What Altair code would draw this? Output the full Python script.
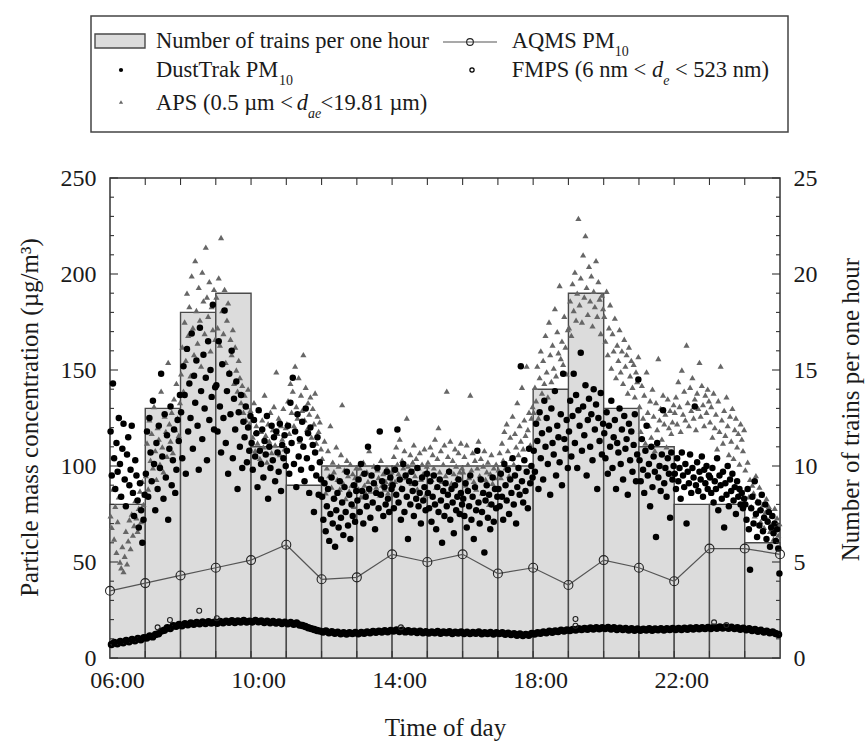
import altair as alt
import pandas as pd

FONT = "Liberation Serif"
TXT = "#1a1a1a"

# ---------------- data ----------------
HOURS = list(range(6, 25))                      # start hour of each bar (06:00 ... 24:00)
TRAINS = [8, 13, 18, 19, 11, 9, 10, 10, 10, 10, 10, 10, 14, 19, 13, 11, 8, 8, 6]
AQMS_HOURS = list(range(6, 26))
AQMS_PM10 = [35, 39, 43, 47, 51, 59, 41, 42, 54, 50, 54, 44, 47, 38, 51, 47, 40, 57, 57, 54]

DUSTTRAK = [
    "118 95 143 104 88 112 97 125 101 84 109 122 93 79 106 115 90 98 121 86 74 103 95 82 68 91 77 60 72 85",
    "96 118 84 125 107 92 134 101 77 112 88 121 99 148 105 83 127 94 116 72 109 131 90 103 119 86 98 124 113 137",
    "128 104 152 137 96 161 118 143 125 169 109 147 133 155 121 98 172 139 114 158 130 146 103 165 124 150 136 184 119 141",
    "142 118 165 131 107 153 125 181 112 139 96 148 127 160 104 135 119 144 88 128 110 137 99 123 115 131 102 120 108 126",
    "112 98 124 105 117 89 129 108 101 119 94 113 106 126 83 110 99 121 103 115 92 118 107 97 122 87 111 104 116 100",
    "108 121 96 133 112 146 101 118 89 127 105 114 98 123 110 92 130 104 117 86 120 99 111 76 107 95 115 85 102 93",
    "84 72 91 66 79 88 61 75 94 70 83 58 77 86 68 92 73 81 64 89 76 97 69 85 62 80 74 90 71 87",
    "82 93 76 101 87 70 96 84 79 110 88 73 95 81 91 67 86 99 78 118 85 92 74 89 80 97 83 76 94 88",
    "90 78 98 85 119 81 93 72 88 101 76 95 84 62 92 80 97 87 74 91 83 99 79 86 70 94 82 89 77 96",
    "86 78 92 71 84 95 80 67 89 76 93 82 60 87 74 91 79 85 97 72 88 81 65 90 77 84 93 75 86 80",
    "83 74 91 68 87 79 95 72 84 62 89 77 108 81 70 93 76 86 55 82 90 73 85 67 80 94 71 88 78 84",
    "88 79 96 84 72 101 90 82 98 75 93 86 104 80 95 70 89 99 85 152 92 81 103 87 97 78 109 91 100 94",
    "108 97 122 113 88 128 104 117 93 134 110 125 101 119 85 130 112 106 139 95 121 115 102 127 90 148 114 109 124 99",
    "118 134 105 126 148 112 137 99 129 121 159 108 131 116 142 95 124 135 110 127 103 140 119 132 88 125 113 138 106 122",
    "117 104 128 96 121 110 134 99 115 124 88 112 107 130 101 119 93 126 109 114 85 122 103 118 97 111 127 92 106 145",
    "103 92 114 98 86 108 121 95 101 79 110 89 105 97 63 112 94 100 87 106 129 91 99 84 104 96 73 107 93 100",
    "96 88 104 92 99 83 107 95 89 101 70 97 91 106 86 99 94 131 90 102 87 97 93 105 84 98 91 100 88 95",
    "94 86 99 81 92 88 104 77 95 90 83 97 68 91 85 100 79 93 87 96 82 89 75 92 84 88 80 86 78 83",
    "80 72 88 67 46 78 84 70 92 75 63 81 69 77 85 66 73 80 62 71 76 58 68 74 65 70 61 67 57 44",
]

APS = [
    "74 68 88 62 79 55 71 84 50 47 58 45 53 66 49 61 72 57 75 64 69 82 73 66 78 87 71 92 80 85",
    "95 112 88 124 103 117 99 131 108 93 120 114 101 139 110 97 126 118 105 154 122 113 128 107 135 119 143 125 116 133",
    "148 162 139 175 155 190 168 183 147 199 172 158 207 181 164 193 176 152 201 186 169 214 188 178 196 160 183 171 192 166",
    "188 172 198 163 219 181 169 192 154 176 185 149 166 158 171 143 162 150 139 155 146 133 142 128 137 124 131 140 122 129",
    "126 115 133 108 121 112 129 104 118 124 110 137 116 102 122 113 128 107 119 131 111 149 117 125 106 121 114 130 109 120",
    "122 134 117 143 128 139 121 152 131 125 146 113 137 129 158 124 141 119 133 127 136 115 130 122 138 112 126 118 123 109",
    "104 92 113 86 99 108 95 121 89 102 97 84 110 93 100 88 106 132 91 98 83 103 95 87 101 90 96 79 94 99",
    "93 88 99 84 96 102 90 86 97 92 108 87 95 81 100 91 89 98 94 85 103 90 96 88 92 99 86 94 91 97",
    "98 105 92 110 101 96 114 89 103 99 108 94 125 100 97 106 91 102 111 95 104 88 99 107 93 101 96 109 85 100",
    "102 96 110 93 106 99 114 89 104 120 97 108 92 101 111 95 139 105 98 113 91 103 96 109 100 94 107 97 112 99",
    "97 105 90 111 101 94 137 98 107 92 103 88 99 113 95 104 86 100 108 93 97 102 80 96 106 91 99 94 101 89",
    "98 107 94 112 103 118 99 122 108 95 115 104 126 101 117 110 133 106 121 113 141 109 124 116 152 119 128 111 125 131",
    "128 141 134 152 125 146 160 138 155 143 168 149 136 175 158 144 163 151 182 147 170 159 194 156 165 153 178 162 148 171",
    "172 186 168 195 181 201 176 190 229 184 198 175 210 188 220 193 179 204 186 199 173 191 183 207 178 196 187 169 189 182",
    "178 165 191 158 172 184 151 169 160 177 146 163 155 171 149 160 143 166 152 158 138 162 147 155 141 153 136 149 144 157",
    "131 118 142 125 137 112 149 128 121 134 115 140 126 108 133 119 156 124 130 114 137 122 127 110 135 120 129 117 123 132",
    "128 136 122 144 131 118 150 127 139 124 163 133 121 141 129 146 125 135 119 138 130 154 126 142 132 121 137 128 140 134",
    "123 131 115 138 120 127 109 134 118 152 124 112 129 116 136 121 106 126 113 130 104 119 125 110 117 101 122 114 108 119",
    "98 88 102 84 93 79 90 86 74 95 82 77 89 71 85 80 68 76 83 72 79 66 74 70 62 78 67 73 64 70",
]

FMPS = [
    "7.0 8.1 7.4 8.6 8.0 9.1 8.5 9.6 9.0 10.1 9.5 10.6",
    "10.4 11.5 11.0 12.3 12.6 14.0 14.5 15.8 15.4 16.8 16.5 17.5",
    "16.8 17.9 17.3 18.2 17.6 18.5 17.8 18.7 18.0 18.9 18.2 18.6",
    "18.1 19.0 18.4 19.2 18.6 19.4 18.5 19.3 18.8 19.5 18.7 19.2",
    "18.8 19.6 18.9 19.3 18.5 19.1 18.3 19.0 18.2 18.8 18.0 18.6",
    "17.8 18.5 17.6 18.2 17.2 16.9 16.4 15.8 15.3 14.9 14.3 14.0",
    "13.5 14.1 13.2 13.7 12.9 13.4 12.6 13.2 12.5 13.1 12.7 13.3",
    "12.6 13.3 12.9 13.6 13.1 13.8 13.4 14.0 13.5 14.2 13.7 14.3",
    "14.0 14.6 13.8 14.4 13.6 14.2 13.5 14.0 13.3 13.9 13.2 13.7",
    "13.0 13.6 13.1 13.8 12.9 13.5 13.2 13.7 12.8 13.4 13.0 13.6",
    "12.8 13.4 12.7 13.3 12.9 13.5 12.6 13.2 12.8 13.3 12.5 13.1",
    "12.7 13.2 12.4 12.9 12.2 12.7 11.9 12.5 11.7 12.3 11.9 12.8",
    "12.5 13.2 12.9 13.6 13.2 13.9 13.4 14.1 13.8 14.4 14.0 14.6",
    "14.3 14.9 14.6 15.2 14.8 15.4 15.0 15.6 15.1 15.7 15.2 15.8",
    "15.3 15.9 15.1 15.7 14.9 15.5 14.8 15.4 14.6 15.2 14.5 15.1",
    "14.4 15.0 14.6 15.2 14.5 15.1 14.7 15.3 14.6 15.2 14.8 15.4",
    "14.8 15.4 14.9 15.5 15.0 15.6 15.1 15.7 15.2 15.8 15.3 15.9",
    "15.4 16.0 15.5 16.1 15.6 16.2 15.5 16.0 15.3 15.8 15.0 15.5",
    "14.7 15.2 14.3 14.8 13.9 14.4 13.5 14.0 13.1 13.6 12.8 12.3",
]
FMPS_EXTRA_T = [7.35, 7.70, 8.53, 9.03, 14.25, 19.20, 19.20, 23.13, 23.48]
FMPS_EXTRA_V = [16.0, 19.8, 24.6, 20.7, 16.0, 20.3, 16.8, 18.6, 17.2]


def series(rows):
    t, v = [], []
    for k, row in enumerate(rows):
        vals = [float(s) for s in row.split()]
        n = len(vals)
        for i, val in enumerate(vals):
            t.append(HOURS[k] + (i + 0.5) / n)
            v.append(val)
    return pd.DataFrame({"t": t, "v": v})


dust_df = series(DUSTTRAK)
aps_df = series(APS)
fmps_df = series(FMPS)
fmps_extra_df = pd.DataFrame({"t": FMPS_EXTRA_T, "v": FMPS_EXTRA_V})
aqms_df = pd.DataFrame({"t": AQMS_HOURS, "v": AQMS_PM10})
bars_df = pd.DataFrame({"t": HOURS, "end": [h + 1 for h in HOURS], "trains": TRAINS,
                        "zero": [0] * len(HOURS)})

# ---------------- scales / axes ----------------
xscale = alt.Scale(domain=[6, 25], nice=False, zero=False)
yscale = alt.Scale(domain=[0, 250], nice=False)
tscale = alt.Scale(domain=[0, 25], nice=False)

xaxis = alt.Axis(values=[6, 10, 14, 18, 22],
                 labelExpr="(datum.value < 10 ? '0' : '') + datum.value + ':00'",
                 ticks=False, domain=False, grid=False, labelFlush=False, labelOverlap=False,
                 labelFont=FONT, labelFontSize=24, labelColor=TXT, labelPadding=10, labelOffset=7,
                 title="Time of day", titleFont=FONT, titleFontSize=25, titleFontWeight="normal",
                 titleColor=TXT, titlePadding=23)
laxis = alt.Axis(orient="left", values=list(range(0, 251, 50)), ticks=False, domain=False,
                 grid=False, labelFlush=False, labelFont=FONT, labelFontSize=24, labelColor=TXT,
                 labelPadding=14, title="Particle mass concentration (µg/m³)", titleFont=FONT,
                 titleFontSize=25, titleFontWeight="normal", titleColor=TXT, titleAngle=270,
                 titleX=-68, titleY=239, titleAlign="center", titleBaseline="bottom")
raxis = alt.Axis(orient="right", values=[0, 5, 10, 15, 20, 25], ticks=False, domain=False,
                 grid=False, labelFlush=False, labelFont=FONT, labelFontSize=24, labelColor=TXT,
                 labelPadding=13, title="Number of trains per one hour", titleFont=FONT,
                 titleFontSize=25, titleFontWeight="normal", titleColor=TXT, titleAngle=270,
                 titleX=58, titleY=231, titleAlign="center", titleBaseline="top")

X = lambda f="t:Q": alt.X(f, scale=xscale, axis=xaxis)
Y = lambda f="v:Q": alt.Y(f, scale=yscale, axis=laxis)

# ---------------- layers ----------------
bars = alt.Chart(bars_df).mark_rect(fill="#dcdcdc", stroke="#4a4a4a", strokeWidth=1.4).encode(
    x=X(), x2="end:Q",
    y=alt.Y("trains:Q", scale=tscale, axis=raxis), y2="zero:Q",
)

aps = alt.Chart(aps_df).mark_point(shape="triangle-up", filled=True, size=38, color="#666666",
                                   opacity=1).encode(x=X(), y=Y())
dust = alt.Chart(dust_df).mark_circle(size=42, color="#000000", opacity=1).encode(x=X(), y=Y())
fmps = alt.Chart(fmps_df).mark_point(shape="circle", filled=False, size=20, color="#000000",
                                     strokeWidth=3, opacity=1).encode(x=X(), y=Y())
fmps_extra = alt.Chart(fmps_extra_df).mark_point(shape="circle", filled=False, size=24,
                                                 color="#222222", strokeWidth=1.1,
                                                 opacity=1).encode(x=X(), y=Y())
aqms_line = alt.Chart(aqms_df).mark_line(color="#555555", strokeWidth=1.2).encode(x=X(), y=Y())
aqms_pts = alt.Chart(aqms_df).mark_point(shape="circle", filled=False, size=80, color="#222222",
                                         strokeWidth=1.1, opacity=1).encode(x=X(), y=Y())

# inward ticks
maj_df = pd.DataFrame({"v": list(range(0, 251, 50))})
min_df = pd.DataFrame({"v": [v for v in range(0, 251, 10) if v % 50]})
hr_df = pd.DataFrame({"t": list(range(7, 25))})
TICK = "#333333"


def yticks(df, x0, x1):
    return alt.Chart(df).mark_rule(color=TICK, strokeWidth=1.1).encode(
        y=Y(), x=alt.value(x0), x2=alt.value(x1))


def xticks(y0, y1):
    return alt.Chart(hr_df).mark_rule(color=TICK, strokeWidth=1.1).encode(
        x=X(), y=alt.value(y0), y2=alt.value(y1))


ticks = [yticks(maj_df, 0, 8), yticks(min_df, 0, 4), yticks(maj_df, 670, 662),
         yticks(min_df, 670, 666), xticks(0, 7), xticks(480, 473)]

# ---------------- legend ----------------
one = pd.DataFrame({"k": [0]})
CW = {" ": 250, "(": 333, ")": 333, ".": 250, "/": 278, "<": 564, "A": 722, "D": 722, "F": 556,
      "M": 889, "N": 722, "P": 556, "Q": 722, "S": 556, "T": 611, "a": 444, "b": 500, "c": 444,
      "d": 500, "e": 444, "f": 333, "g": 500, "h": 500, "i": 278, "k": 500, "m": 778, "n": 500,
      "o": 500, "p": 500, "r": 333, "s": 389, "t": 278, "u": 500, "y": 500, "µ": 500}


def tw(s, size):
    return sum(CW.get(c, 500) for c in s) * size / 1000.0


def ltext(s, x, y, size, italic=False):
    return alt.Chart(one).mark_text(text=s, align="left", baseline="alphabetic", font=FONT,
                                    fontSize=size, fontStyle="italic" if italic else "normal",
                                    color=TXT).encode(x=alt.value(x), y=alt.value(y))


LSIZE = 22.5


def rich(pieces, x, y, size=LSIZE):
    out = []
    for s, kind in pieces:
        sub = kind.startswith("s")
        sz = size * 0.62 if sub else size
        dy = size * 0.34 if sub else 0
        lead = len(s) - len(s.lstrip(" "))
        core = s.strip(" ")
        trail = len(s) - lead - len(core)
        x += lead * 250 * sz / 1000.0
        if core:
            out.append(ltext(core, x, y + dy, sz, "i" in kind))
        x += tw(core, sz) + trail * 250 * sz / 1000.0
    return out


R1, R2, R3 = -130, -101, -68
legend = [
    alt.Chart(one).mark_rect(fill="white", stroke="#444444", strokeWidth=1.5).encode(
        x=alt.value(-19), x2=alt.value(678), y=alt.value(-162), y2=alt.value(-46)),
    alt.Chart(one).mark_rect(fill="#dcdcdc", stroke="#4a4a4a", strokeWidth=1.4).encode(
        x=alt.value(-15), x2=alt.value(35), y=alt.value(R1 - 14), y2=alt.value(R1)),
    alt.Chart(one).mark_rule(color="#555555", strokeWidth=1.2).encode(
        x=alt.value(333), x2=alt.value(387), y=alt.value(R1 - 6)),
    alt.Chart(one).mark_point(shape="circle", filled=False, size=45, color="#222222",
                              strokeWidth=1.1, opacity=1).encode(
        x=alt.value(360), y=alt.value(R1 - 6)),
    alt.Chart(one).mark_circle(size=18, color="#000000", opacity=1).encode(
        x=alt.value(11), y=alt.value(R2 - 7)),
    alt.Chart(one).mark_point(shape="circle", filled=False, size=18, color="#000000",
                              strokeWidth=1.2, opacity=1).encode(
        x=alt.value(362), y=alt.value(R2 - 7)),
    alt.Chart(one).mark_point(shape="triangle-up", filled=True, size=18, color="#666666",
                              opacity=1).encode(x=alt.value(11), y=alt.value(R3 - 8)),
]
legend += rich([("Number of trains per one hour", "n")], 46, R1)
legend += rich([("AQMS PM", "n"), ("10", "s")], 401.7, R1)
legend += rich([("DustTrak PM", "n"), ("10", "s")], 46, R2)
legend += rich([("FMPS (6 nm < ", "n"), ("d", "i"), ("e", "si"), (" < 523 nm)", "n")], 401.7, R2)
legend += rich([("APS (0.5 µm < ", "n"), ("d", "i"), ("ae", "si"), ("<19.81 µm)", "n")], 46, R3)

inner = alt.layer(aps, dust, fmps, fmps_extra, aqms_line, aqms_pts, *ticks, *legend)

chart = alt.layer(bars, inner).resolve_scale(y="independent").properties(
    width=670, height=480,
    autosize=alt.AutoSizeParams(type="none"),
    padding={"left": 110, "top": 178, "right": 85, "bottom": 89},
    background="white",
).configure_view(stroke="#333333", strokeWidth=1.5)

chart.save("out.html", embed_options={"renderer": "svg", "actions": False})
